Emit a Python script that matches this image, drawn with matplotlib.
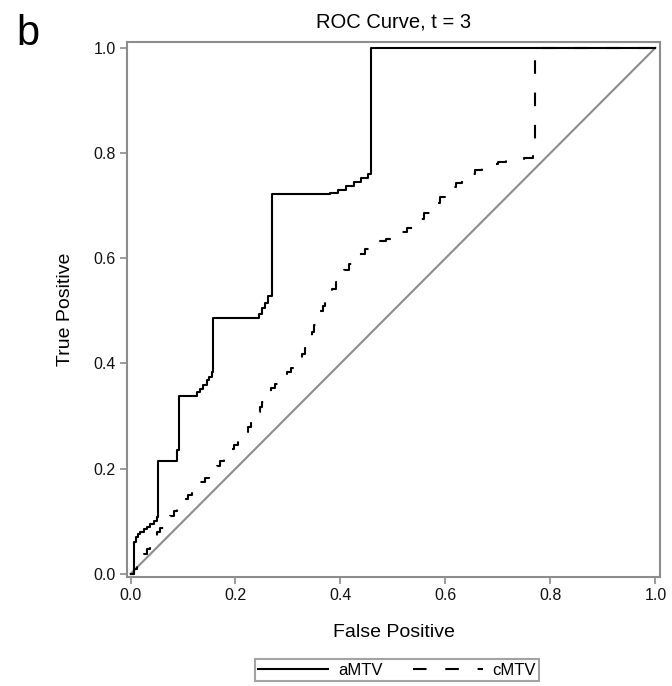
import matplotlib as mpl
import matplotlib.pyplot as plt

mpl.rcParams['font.family'] = ['Liberation Sans', 'DejaVu Sans']

# aMTV ROC points (false positive, true positive)
a_fpr = [0.0, 0.006, 0.010, 0.014, 0.019, 0.025, 0.032, 0.038, 0.044, 0.051, 0.053,
         0.089, 0.092, 0.127, 0.133, 0.139, 0.145, 0.150, 0.155, 0.157,
         0.244, 0.250, 0.256, 0.262, 0.269, 0.380, 0.395, 0.410, 0.425, 0.440,
         0.452, 0.459, 1.0]
a_tpr = [0.0, 0.061, 0.070, 0.075, 0.080, 0.085, 0.090, 0.095, 0.100, 0.108, 0.214,
         0.235, 0.338, 0.345, 0.352, 0.360, 0.368, 0.375, 0.383, 0.486,
         0.495, 0.505, 0.515, 0.528, 0.722, 0.724, 0.730, 0.737, 0.745, 0.753,
         0.760, 1.0, 1.0]

# cMTV ROC points
c_fpr = [0.0, 0.006, 0.013, 0.019, 0.025, 0.032, 0.038, 0.044, 0.051, 0.057, 0.063,
         0.070, 0.076, 0.082, 0.089, 0.095, 0.101, 0.109, 0.117, 0.125, 0.133,
         0.141, 0.149, 0.157, 0.165, 0.171, 0.178, 0.184, 0.190, 0.197, 0.204,
         0.211, 0.219, 0.224, 0.230, 0.236, 0.241, 0.246, 0.251, 0.256, 0.260,
         0.268, 0.276, 0.284, 0.291, 0.298, 0.306, 0.313, 0.320, 0.326, 0.332,
         0.339, 0.345, 0.350, 0.355, 0.360, 0.366, 0.371, 0.377, 0.384, 0.391,
         0.398, 0.407, 0.416, 0.425, 0.436, 0.447, 0.459, 0.473, 0.487, 0.501,
         0.514, 0.527, 0.539, 0.549, 0.560, 0.570, 0.580, 0.589, 0.599, 0.610,
         0.620, 0.631, 0.644, 0.656, 0.669, 0.685, 0.700, 0.716, 0.733, 0.750,
         0.767, 0.770, 1.0]
c_tpr = [0.0, 0.010, 0.020, 0.030, 0.038, 0.048, 0.058, 0.068, 0.079, 0.087, 0.095,
         0.103, 0.111, 0.119, 0.127, 0.135, 0.142, 0.150, 0.158, 0.166, 0.174,
         0.182, 0.190, 0.198, 0.206, 0.214, 0.222, 0.229, 0.237, 0.245, 0.253,
         0.261, 0.269, 0.279, 0.288, 0.298, 0.307, 0.317, 0.326, 0.336, 0.345,
         0.353, 0.361, 0.369, 0.376, 0.383, 0.391, 0.398, 0.405, 0.418, 0.430,
         0.443, 0.459, 0.474, 0.490, 0.500, 0.509, 0.519, 0.528, 0.541, 0.554,
         0.567, 0.578, 0.589, 0.599, 0.608, 0.617, 0.626, 0.632, 0.637, 0.643,
         0.650, 0.657, 0.664, 0.675, 0.686, 0.696, 0.706, 0.717, 0.727, 0.735,
         0.744, 0.752, 0.760, 0.768, 0.776, 0.780, 0.783, 0.786, 0.789, 0.791,
         0.794, 1.0, 1.0]

ticks = [0.0, 0.2, 0.4, 0.6, 0.8, 1.0]

fig = plt.figure(figsize=(6.72, 6.86), dpi=100)
ax = fig.add_axes([0.189, 0.159, 0.793, 0.780])
gray = '#8c8c8c'

ax.plot([0, 1], [0, 1], color=gray, lw=1.5)
ax.plot(a_fpr, a_tpr, drawstyle='steps-post', color='black', lw=1.5, label='aMTV')
ax.plot(c_fpr, c_tpr, drawstyle='steps-post', color='black', lw=1.5,
        dashes=(6.5, 9), label='cMTV')

ax.set_xlim(-0.0067, 1.0086)
ax.set_ylim(-0.0057, 1.0114)
ax.set_xticks(ticks)
ax.set_yticks(ticks)
ax.set_xticklabels([f'{t:.1f}' for t in ticks])
ax.set_yticklabels([f'{t:.1f}' for t in ticks])
for s in ax.spines.values():
    s.set_color(gray)
    s.set_linewidth(1.5)
ax.tick_params(direction='out', length=5, width=1.2, color=gray, labelsize=11.5,
               labelcolor='#111111', pad=3)

ax.set_title('ROC Curve, t = 3', fontsize=14.5, pad=10)
ax.set_xlabel('False Positive', fontsize=14, labelpad=15)
ax.set_ylabel('True Positive', fontsize=14, labelpad=14)

fig.text(0.025, 0.95, 'b', fontsize=30, va='center', ha='left')

leg = fig.legend(loc='center', bbox_to_anchor=(0.591, 0.023), ncol=2, fontsize=12,
                 frameon=True, fancybox=False, handlelength=4.2, columnspacing=1.8,
                 handletextpad=0.6, borderpad=0.2, edgecolor=gray)
leg.get_frame().set_linewidth(1.5)

fig.savefig('out.png', dpi=100)
